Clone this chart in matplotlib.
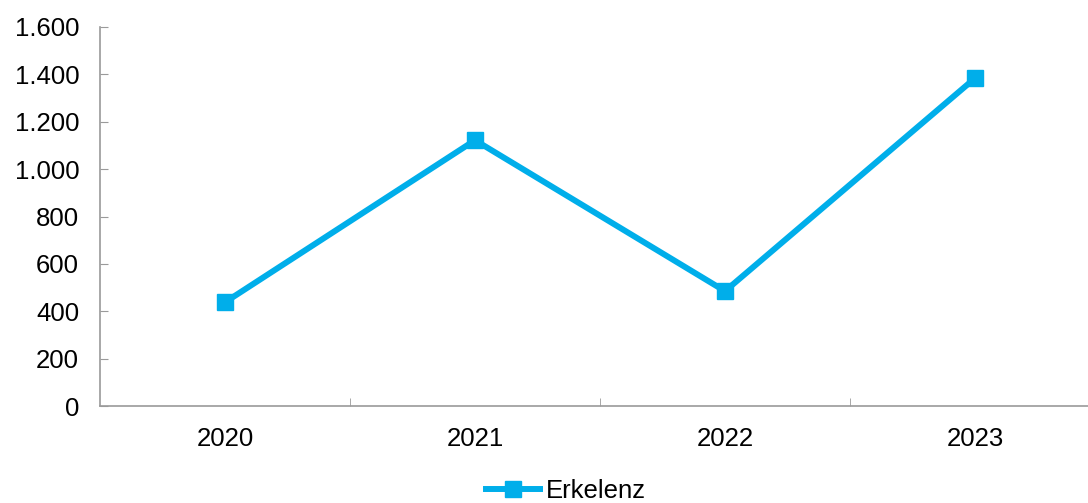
import matplotlib
matplotlib.use("Agg")
import matplotlib.pyplot as plt
from matplotlib.ticker import FuncFormatter

years = ["2020", "2021", "2022", "2023"]
erkelenz = [438, 1122, 485, 1384]
y_ticks = [0, 200, 400, 600, 800, 1000, 1200, 1400, 1600]

plt.rcParams['font.family'] = ['Liberation Sans', 'DejaVu Sans']

fig = plt.figure(figsize=(10.88, 5.03), dpi=100)
ax = fig.add_axes([100/1088, 97/503, 988/1088, 379/503])

x = list(range(len(years)))
ax.plot(x, erkelenz, color="#00AEEA", lw=4.3, marker="s", ms=11,
        solid_joinstyle="round", label="Erkelenz")

ax.set_ylim(0, 1600)
ax.set_xlim(-0.5, 3.452)
ax.set_yticks(y_ticks)
ax.yaxis.set_major_formatter(FuncFormatter(lambda v, p: f"{int(v):,}".replace(",", ".")))
ax.set_xticks(x)
ax.set_xticklabels(years)
ax.set_xticks([0.5, 1.5, 2.5], minor=True)

for s in ["top", "right"]:
    ax.spines[s].set_visible(False)
for s in ["left", "bottom"]:
    ax.spines[s].set_color("#9A9A9A")
    ax.spines[s].set_linewidth(1.2)

ax.tick_params(axis="y", direction="in", length=6, color="#9A9A9A", labelsize=18.5, pad=15)
ax.tick_params(axis="x", which="major", length=0, labelsize=18.5, pad=15)
ax.tick_params(axis="x", which="minor", direction="in", length=6, color="#9A9A9A")

fig.legend(loc="center", bbox_to_anchor=(566/1088, 12/503), frameon=False,
           fontsize=18.5, handlelength=2.1, handletextpad=0.2)

fig.savefig("out.png", dpi=100)
